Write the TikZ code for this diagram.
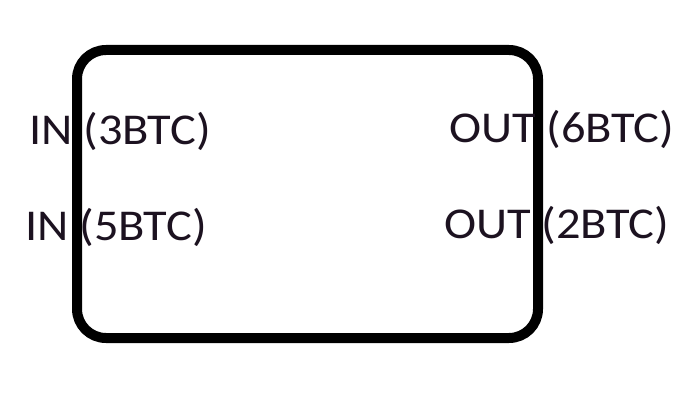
\documentclass[tikz,border=0pt]{standalone}
\usepackage{fontspec}
\setmainfont{Carlito}
\usepackage{graphicx}
\begin{document}
\begin{tikzpicture}[x=1pt,y=-1pt]
\definecolor{inkc}{RGB}{28,18,32}
\tikzset{
  frame/.style={draw=black, line width=10pt, rounded corners=29pt, minimum width=461pt, minimum height=288pt, inner sep=0pt},
  lbl/.style={anchor=base west, inner sep=0pt, outer sep=0pt, text=inkc, font=\fontsize{44}{52}\selectfont}
}
\useasboundingbox[fill=white] (0,0) rectangle (696,404);
\node[frame] (box) at (307.5,194) {};
\node[lbl] (in1) at (29,144) {\scalebox{1.1}[1]{IN (3BTC)}};
\node[lbl] (in2) at (25,240) {\scalebox{1.1}[1]{IN (5BTC)}};
\node[lbl] (out1) at (449,142) {\scalebox{1.1}[1]{OUT (6BTC)}};
\node[lbl] (out2) at (444,238) {\scalebox{1.1}[1]{OUT (2BTC)}};
\end{tikzpicture}
\end{document}
